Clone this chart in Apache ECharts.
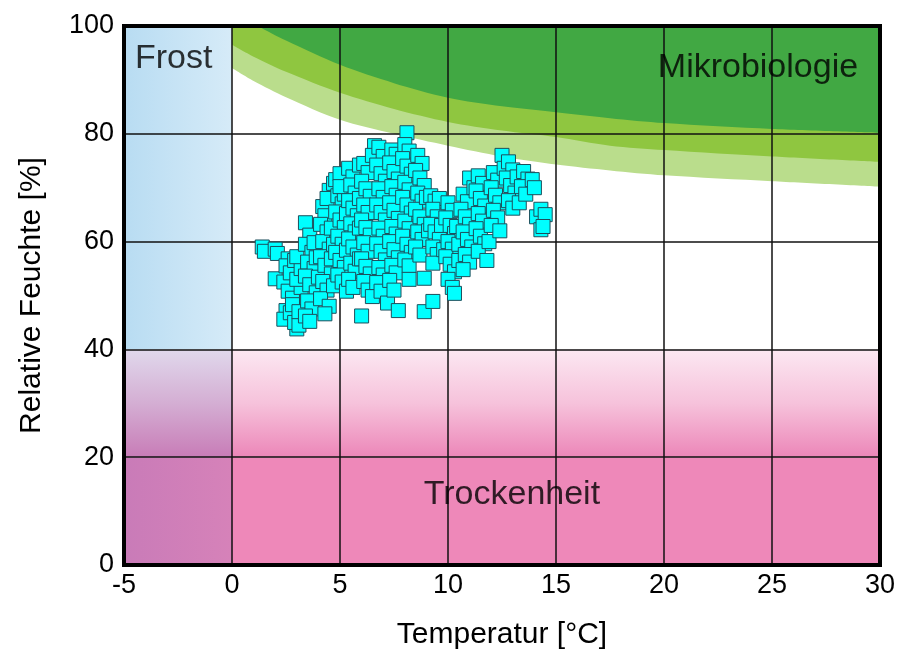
<!DOCTYPE html>
<html>
<head>
<meta charset="utf-8">
<script src="https://cdn.jsdelivr.net/npm/echarts@6/dist/echarts.min.js"></script>
<style>
html,body{margin:0;padding:0;background:#fff;}
#chart{width:905px;height:655px;}
</style>
</head>
<body>
<div id="chart"></div>
<script>
// Axis ticks
const xTicks = [-5, 0, 5, 10, 15, 20, 25, 30];
const yTicks = [0, 20, 40, 60, 80, 100];

// Isopleth boundaries (lower edge of each green band): [temperature, rel. humidity]
const curveLight = [[0,92.2],[1,89.8],[2.5,86.8],[5,82.6],[7.5,80.0],[10,77.8],[12.5,75.8],[15,74.3],[17.5,73.2],[20,72.3],[25,71.2],[30,70.2]];
const curveMedium = [[0,96.5],[1,94.3],[2.5,91.5],[5,87.6],[7.5,84.6],[10,82.2],[12.5,80.6],[15,79.4],[17.5,77.8],[20,77.0],[25,75.8],[30,74.8]];
const curveDark = [[0.4,102],[1.2,100],[2.5,97.3],[5,92.8],[7.5,89.4],[10,86.7],[12.5,85.1],[15,84.0],[17.5,82.9],[20,82.0],[25,80.9],[30,80.2]];

// Zone labels
const zoneLabels = [
  {name:'Frost', value:[-2.7, 93.9]},
  {name:'Mikrobiologie', value:[24.35, 92.2]},
  {name:'Trockenheit', value:[12.96, 13.1]}
];

// Measurements: [temperature °C, relative humidity %]
const measurements = [
[1.4,59.0],[1.5,58.2],[2.0,58.6],[2.1,57.8],[2.6,56.8],[2.0,53.1],[2.4,52.5],
[2.5,55.5],[2.7,54.2],[2.9,56.5],[2.6,50.8],[2.8,49.5],[2.5,47.2],[2.4,45.6],[2.7,46.8],[3.0,43.8],[2.9,45.0],[3.1,44.5],[2.8,48.3],[3.1,47.0],[3.2,51.5],[3.0,53.0],[3.2,55.0],[3.0,57.2],
[3.4,63.5],[3.6,61.2],[3.4,59.5],[3.7,58.0],[3.5,56.2],[3.8,55.0],[3.4,53.6],[3.6,52.0],[3.9,50.5],[3.5,49.0],[3.7,47.5],[3.4,46.2],[3.6,45.2],[3.9,57.0],[3.8,59.8],[4.0,53.4],
[4.2,66.5],[4.3,64.8],[4.1,63.2],[4.4,61.8],[4.2,60.0],[4.5,58.6],[4.1,57.2],[4.3,55.6],[4.6,54.0],[4.2,52.6],[4.4,51.0],[4.1,49.4],[4.5,48.0],[4.3,46.6],[4.6,62.5],[4.7,59.5],[4.6,56.8],[4.7,51.8],[4.5,69.5],[4.7,70.8],[4.4,68.0],
[4.8,71.5],[5.0,72.6],[4.9,68.5],[5.1,67.0],[4.8,65.5],[5.0,64.0],[5.2,62.6],[4.9,61.0],[5.1,59.5],[4.8,58.0],[5.0,56.5],[5.2,55.2],[4.9,53.8],[5.1,52.5],[5.3,50.8],[5.2,68.8],[5.3,65.2],[5.3,58.4],[5.0,70.2],
[5.4,73.6],[5.6,72.0],[5.5,70.5],[5.7,69.0],[5.4,67.6],[5.6,66.2],[5.8,64.8],[5.5,63.3],[5.7,61.8],[5.4,60.5],[5.6,59.0],[5.8,57.5],[5.5,56.0],[5.7,54.5],[5.4,53.0],[5.6,51.5],[5.9,74.2],[5.9,68.0],[5.9,62.5],[5.9,56.8],
[6.0,46.2],
[6.1,74.5],[6.3,72.8],[6.0,71.2],[6.2,69.8],[6.4,68.4],[6.1,66.8],[6.3,65.4],[6.0,64.0],[6.2,62.6],[6.4,61.2],[6.1,59.8],[6.3,58.2],[6.0,56.8],[6.2,55.4],[6.4,54.0],[6.1,52.6],[6.3,51.0],[6.5,49.8],[6.6,77.8],[6.5,76.0],
[6.8,77.5],[7.0,75.8],[6.7,74.2],[6.9,72.6],[7.1,71.2],[6.8,69.8],[7.0,68.2],[6.7,66.8],[6.9,65.4],[7.1,64.0],[6.8,62.5],[7.0,61.0],[6.7,59.6],[6.9,58.2],[7.1,56.6],[6.8,55.2],[7.0,53.8],[6.7,52.4],[6.9,50.8],[7.2,48.6],
[7.4,77.0],[7.6,76.2],[7.3,74.6],[7.5,73.0],[7.7,71.6],[7.4,70.2],[7.6,68.6],[7.3,67.2],[7.5,65.8],[7.7,64.3],[7.4,62.8],[7.6,61.4],[7.3,60.0],[7.5,58.5],[7.7,57.0],[7.4,55.6],[7.6,54.2],[7.3,52.8],[7.5,51.0],[7.7,47.2],
[8.1,80.2],[8.0,78.0],[8.2,76.8],[7.9,75.4],[8.1,74.0],[8.3,72.5],[8.0,71.0],[8.2,69.6],[7.9,68.2],[8.1,66.8],[8.3,65.3],[8.0,63.8],[8.2,62.4],[7.9,61.0],[8.1,59.5],[8.3,58.0],[8.0,56.6],[8.2,55.5],[8.2,53.0],
[8.6,76.0],[8.8,74.5],[8.5,73.2],[8.7,71.8],[8.9,70.4],[8.6,69.0],[8.8,67.5],[8.5,66.0],[8.7,64.6],[8.9,63.2],[8.6,61.8],[8.8,60.4],[8.5,59.0],[8.7,57.5],[8.9,53.2],[8.9,47.0],[9.0,68.2],[9.1,62.0],
[9.2,68.5],[9.4,67.5],[9.6,68.0],[9.3,66.0],[9.5,64.6],[9.2,63.2],[9.4,61.8],[9.6,60.4],[9.3,59.0],[9.5,57.6],[9.3,56.0],[9.3,48.9],[9.7,63.0],[9.8,58.5],
[10.0,67.2],[10.2,65.8],[9.9,64.4],[10.1,63.0],[10.3,61.5],[10.0,60.0],[10.2,58.6],[9.9,57.2],[10.1,55.8],[10.3,54.4],[10.0,53.0],[10.2,51.5],[10.4,62.8],[10.5,59.5],[10.5,56.5],[10.3,50.4],
[10.7,68.8],[10.9,67.4],[10.6,66.0],[10.8,64.6],[11.0,63.2],[10.7,61.8],[10.9,60.4],[11.1,59.0],[10.8,57.6],[11.0,56.2],[10.7,54.8],[11.0,71.8],[11.2,70.0],
[11.4,72.2],[11.6,70.8],[11.3,69.4],[11.5,68.0],[11.7,66.6],[11.4,65.2],[11.6,63.8],[11.3,62.4],[11.5,61.0],[11.7,59.6],[11.4,58.2],[11.8,56.5],[11.9,60.0],
[12.1,72.8],[12.3,71.4],[12.0,70.0],[12.2,68.6],[12.4,67.2],[12.1,65.8],[12.3,64.4],[12.0,63.0],[12.5,76.0],[12.6,73.6],[12.4,62.0],
[12.8,74.8],[13.0,73.3],[12.7,71.8],[12.9,70.4],[13.1,69.0],[12.8,67.6],[13.0,66.2],[13.3,67.2],[13.2,72.0],
[13.5,73.0],[13.7,71.6],[13.4,70.2],[13.6,68.8],[13.9,71.5],[14.0,70.0],[14.1,64.6],[14.3,66.0],[14.3,62.2],[14.5,65.0],[14.4,62.8]
];

const FONT = 'Arial, "Liberation Sans", sans-serif';
const lin = (x2, y2, stops) => ({type:'linear', x:0, y:0, x2:x2, y2:y2, colorStops:stops.map((c,i)=>({offset:i/(stops.length-1), color:c}))});

const chart = echarts.init(document.getElementById('chart'), null, {renderer:'canvas'});
chart.setOption({
  animation:false,
  backgroundColor:'#ffffff',
  grid:{left:124, right:25, top:26, bottom:89, show:true, borderColor:'#000', borderWidth:4, backgroundColor:'transparent', z:4},
  xAxis:{
    type:'value', min:xTicks[0], max:xTicks[xTicks.length-1], interval:5, z:2,
    name:'Temperatur [°C]', nameLocation:'middle', nameGap:55,
    nameTextStyle:{fontFamily:FONT, fontSize:30, color:'#000'},
    axisLine:{show:false}, axisTick:{show:false},
    axisLabel:{fontFamily:FONT, fontSize:27, color:'#000', margin:7},
    splitLine:{show:true, lineStyle:{color:'#111', width:1.5}}
  },
  yAxis:{
    type:'value', min:yTicks[0], max:yTicks[yTicks.length-1], interval:20, z:2,
    name:'Relative Feuchte [%]', nameLocation:'middle', nameGap:77,
    nameTextStyle:{fontFamily:FONT, fontSize:30, color:'#000'},
    axisLine:{show:false}, axisTick:{show:false},
    axisLabel:{fontFamily:FONT, fontSize:27, color:'#000', margin:10},
    splitLine:{show:true, lineStyle:{color:'#111', width:1.5}}
  },
  series:[
    {
      type:'scatter', data:[], z:1, silent:true,
      markArea:{
        silent:true, z:1,
        data:[
          [{xAxis:-5, yAxis:40, itemStyle:{color:lin(1,0,['#b8dcf2','#d6ebf8'])}},{xAxis:0, yAxis:100}],
          [{xAxis:0, yAxis:0, itemStyle:{color:'#ee88b9'}},{xAxis:30, yAxis:20}],
          [{xAxis:0, yAxis:20, itemStyle:{color:lin(0,1,['#fce8f2','#f6c2db','#ec86b8'])}},{xAxis:30, yAxis:40}],
          [{xAxis:-5, yAxis:0, itemStyle:{color:lin(1,0,['#c97bb8','#d682b9'])}},{xAxis:0, yAxis:20}],
          [{xAxis:-5, yAxis:20, itemStyle:{color:lin(0,1,['#e0d8ec','#d4aed3','#c87cb7'])}},{xAxis:0, yAxis:40}]
        ]
      }
    },
    {type:'line', data:curveLight, smooth:0.3, symbol:'none', z:1, silent:true, lineStyle:{width:0}, areaStyle:{origin:'end', color:'#badd8c', opacity:1}},
    {type:'line', data:curveMedium, smooth:0.3, symbol:'none', z:1, silent:true, lineStyle:{width:0}, areaStyle:{origin:'end', color:'#8fc640', opacity:1}},
    {type:'line', data:curveDark, smooth:0.3, symbol:'none', z:1, silent:true, lineStyle:{width:0}, areaStyle:{origin:'end', color:'#41a843', opacity:1}},
    {
      type:'scatter', data:measurements, z:3, symbol:'rect', symbolSize:14,
      itemStyle:{color:'#00ffff', borderColor:'#1d4f5c', borderWidth:1, opacity:1}
    },
    {
      type:'scatter', data:zoneLabels, z:5, symbolSize:0, silent:true,
      label:{show:true, position:'inside', formatter:'{b}', fontFamily:FONT, fontSize:34, color:'#000', textBorderWidth:0}
    }
  ]
});
</script>
</body>
</html>
